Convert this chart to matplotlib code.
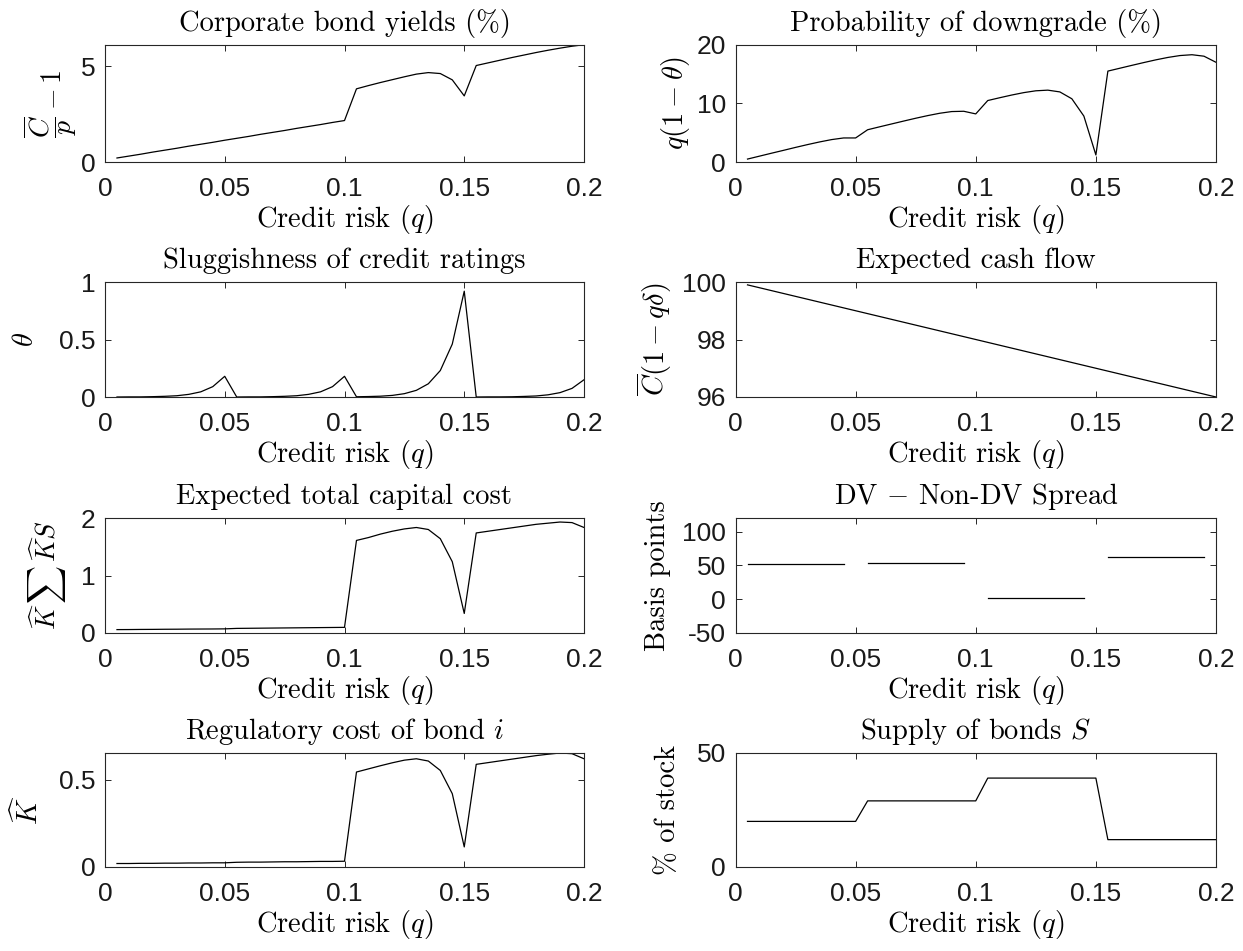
import matplotlib
matplotlib.use("Agg")
import matplotlib.pyplot as plt
import numpy as np

plt.rcParams.update({
    "mathtext.fontset": "cm",
    "axes.unicode_minus": False,
    "font.family": ["Liberation Sans", "DejaVu Sans"],
})

# Credit risk grid
q = [0.005, 0.010, 0.015, 0.020, 0.025, 0.030, 0.035, 0.040, 0.045, 0.050,
     0.055, 0.060, 0.065, 0.070, 0.075, 0.080, 0.085, 0.090, 0.095, 0.100,
     0.105, 0.110, 0.115, 0.120, 0.125, 0.130, 0.135, 0.140, 0.145, 0.150,
     0.155, 0.160, 0.165, 0.170, 0.175, 0.180, 0.185, 0.190, 0.195, 0.200]

# Corporate bond yields (%)
yields = [0.21, 0.31, 0.41, 0.52, 0.62, 0.72, 0.83, 0.93, 1.03, 1.14,
          1.24, 1.34, 1.45, 1.55, 1.65, 1.76, 1.86, 1.96, 2.07, 2.17,
          3.83, 4.00, 4.16, 4.31, 4.46, 4.60, 4.68, 4.63, 4.30, 3.46,
          5.05, 5.19, 5.33, 5.47, 5.60, 5.73, 5.85, 5.96, 6.06, 6.14]

# Probability of downgrade (%)
downgrade = [0.50, 1.00, 1.50, 1.99, 2.49, 2.97, 3.42, 3.82, 4.10, 4.10,
             5.50, 6.00, 6.49, 6.98, 7.46, 7.91, 8.31, 8.60, 8.65, 8.20,
             10.48, 10.96, 11.42, 11.83, 12.14, 12.25, 11.95, 10.78, 7.83, 1.20,
             15.50, 15.99, 16.48, 16.96, 17.42, 17.83, 18.15, 18.29, 18.04, 17.00]

# Sluggishness of credit ratings (theta)
theta = [0.000, 0.001, 0.001, 0.003, 0.006, 0.011, 0.023, 0.045, 0.090, 0.180,
         0.000, 0.001, 0.001, 0.003, 0.006, 0.011, 0.023, 0.045, 0.090, 0.180,
         0.002, 0.004, 0.007, 0.014, 0.029, 0.058, 0.115, 0.230, 0.460, 0.920,
         0.000, 0.001, 0.001, 0.002, 0.005, 0.009, 0.019, 0.038, 0.075, 0.150]

# Expected cash flow
cash_flow = [99.9, 99.8, 99.7, 99.6, 99.5, 99.4, 99.3, 99.2, 99.1, 99.0,
             98.9, 98.8, 98.7, 98.6, 98.5, 98.4, 98.3, 98.2, 98.1, 98.0,
             97.9, 97.8, 97.7, 97.6, 97.5, 97.4, 97.3, 97.2, 97.1, 97.0,
             96.9, 96.8, 96.7, 96.6, 96.5, 96.4, 96.3, 96.2, 96.1, 96.0]

# Expected total capital cost
total_cost = [0.059, 0.060, 0.062, 0.063, 0.065, 0.066, 0.068, 0.069, 0.070, 0.072,
              0.080, 0.082, 0.084, 0.086, 0.088, 0.090, 0.092, 0.094, 0.096, 0.098,
              1.61, 1.66, 1.72, 1.77, 1.81, 1.835, 1.80, 1.64, 1.24, 0.34,
              1.74, 1.77, 1.80, 1.83, 1.86, 1.89, 1.91, 1.93, 1.92, 1.835]

# DV - Non-DV spread (basis points), undefined at the rating thresholds
nan = float("nan")
spread = [51.5, 51.5, 51.5, 51.5, 51.5, 51.5, 51.5, 51.5, 51.5, nan,
          53.0, 53.0, 53.0, 53.0, 53.0, 53.0, 53.0, 53.0, 53.0, nan,
          2.0, 2.0, 2.0, 2.0, 2.0, 2.0, 2.0, 2.0, 2.0, nan,
          62.0, 62.0, 62.0, 62.0, 62.0, 62.0, 62.0, 62.0, 62.0, nan]

# Regulatory cost of bond i
k_hat = [0.020, 0.020, 0.021, 0.021, 0.022, 0.022, 0.023, 0.023, 0.024, 0.024,
         0.027, 0.028, 0.028, 0.029, 0.030, 0.030, 0.031, 0.032, 0.032, 0.033,
         0.544, 0.562, 0.580, 0.597, 0.612, 0.620, 0.607, 0.553, 0.420, 0.115,
         0.588, 0.598, 0.608, 0.618, 0.628, 0.638, 0.646, 0.653, 0.649, 0.620]

# Supply of bonds S (% of stock)
supply = [20, 20, 20, 20, 20, 20, 20, 20, 20, 20,
          29, 29, 29, 29, 29, 29, 29, 29, 29, 29,
          39, 39, 39, 39, 39, 39, 39, 39, 39, 39,
          12, 12, 12, 12, 12, 12, 12, 12, 12, 12]

x_ticks = [0, 0.05, 0.1, 0.15, 0.2]
x_tick_labels = ["0", "0.05", "0.1", "0.15", "0.2"]

W, H = 1243, 951
fig = plt.figure(figsize=(W / 100, H / 100), dpi=100)

cols = [(105, 584), (735.5, 1216)]
rows = [(44.7, 162), (282, 397), (518, 633), (753, 867)]


def axes_at(r, c):
    x0, x1 = cols[c]
    y0, y1 = rows[r]
    return fig.add_axes([x0 / W, 1 - y1 / H, (x1 - x0) / W, (y1 - y0) / H])


SERIF = "cmr10"
EDGE = "#262626"
TEXT_SIZE = 20.5
TICK_SIZE = 19


def panel(r, c, y, title, ylabel, ylim, yticks, ytick_labels, ylabel_x,
          ylabel_size=TEXT_SIZE):
    ax = axes_at(r, c)
    ax.plot(q, y, color="black", lw=0.9)
    ax.set_xlim(0, 0.2)
    ax.set_ylim(*ylim)
    ax.set_xticks(x_ticks)
    ax.set_xticklabels(x_tick_labels)
    ax.set_yticks(yticks)
    ax.set_yticklabels(ytick_labels)
    ax.tick_params(direction="in", top=True, right=True, length=4.5,
                   width=0.7, color=EDGE, labelsize=TICK_SIZE,
                   labelcolor="#1a1a1a")
    ax.tick_params(axis="x", pad=11)
    ax.tick_params(axis="y", pad=7)
    for s in ax.spines.values():
        s.set_color(EDGE)
        s.set_linewidth(0.8)
    ax.set_title(title, fontsize=TEXT_SIZE, family=SERIF, pad=10)
    ax.set_xlabel(r"Credit risk $(q)$", fontsize=TEXT_SIZE, family=SERIF,
                  labelpad=1)
    ax.set_ylabel(ylabel, fontsize=ylabel_size, family=SERIF, va="center")
    x0, x1 = cols[c]
    ax.yaxis.set_label_coords((ylabel_x - x0) / (x1 - x0), 0.5)
    return ax


panel(0, 0, yields, "Corporate bond yields (%)",
      r"$\dfrac{\overline{C}}{p}-1$", (0, max(yields)), [0, 5], ["0", "5"],
      50, 20)
panel(0, 1, downgrade, "Probability of downgrade (%)",
      r"$q(1-\theta)$", (0, 20), [0, 10, 20], ["0", "10", "20"], 676)
panel(1, 0, theta, "Sluggishness of credit ratings",
      r"$\theta$", (0, 1), [0, 0.5, 1], ["0", "0.5", "1"], 26)
panel(1, 1, cash_flow, "Expected cash flow",
      r"$\overline{C}(1-q\delta)$", (96, 100), [96, 98, 100],
      ["96", "98", "100"], 654)
panel(2, 0, total_cost, "Expected total capital cost",
      r"$\widehat{K}\,\sum\,\widehat{K}S$", (0, 2), [0, 1, 2], ["0", "1", "2"],
      47, 19)
panel(2, 1, spread, r"DV $-$ Non-DV Spread",
      "Basis points", (-50, 120), [-50, 0, 50, 100],
      ["-50", "0", "50", "100"], 658)
panel(3, 0, k_hat, r"Regulatory cost of bond $i$",
      r"$\widehat{K}$", (0, max(k_hat)), [0, 0.5], ["0", "0.5"], 28)
panel(3, 1, supply, r"Supply of bonds $S$",
      "% of stock", (0, 50), [0, 50], ["0", "50"], 668)

fig.savefig("out.png", dpi=100, facecolor="white")
